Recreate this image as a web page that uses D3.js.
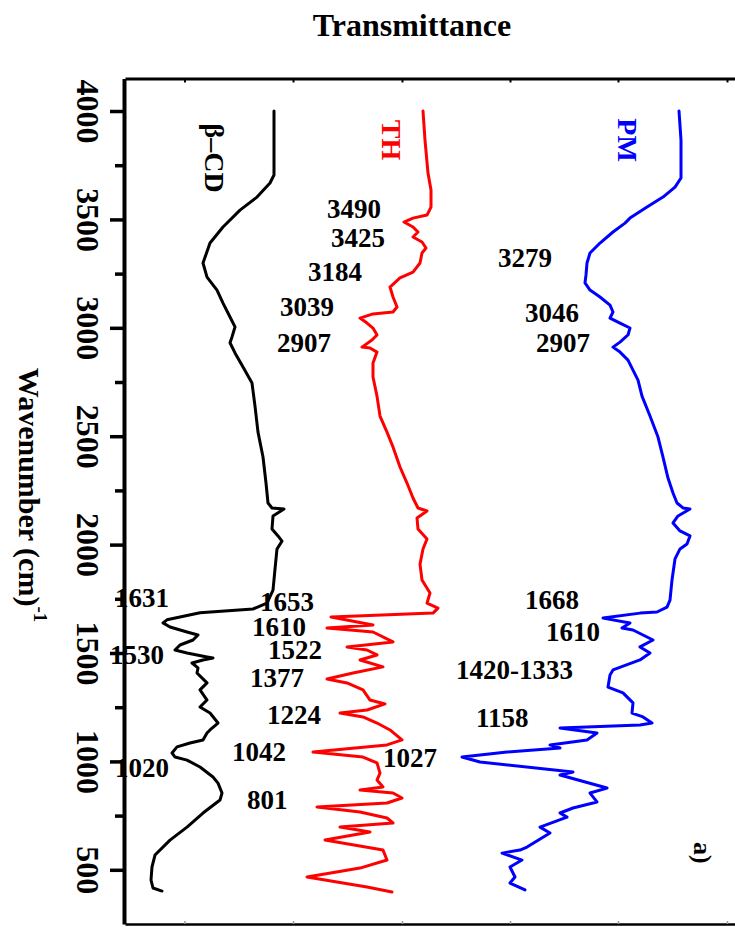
<!DOCTYPE html>
<html>
<head>
<meta charset="utf-8">
<script src="https://cdn.jsdelivr.net/npm/d3@7/dist/d3.min.js"></script>
<style>
  html, body { margin: 0; padding: 0; background: #fff; }
  svg { display: block; }
  text { font-family: "Liberation Serif", "Times New Roman", serif; font-weight: bold; }
</style>
</head>
<body>
<svg id="chart" width="735" height="927"></svg>
<script>
// ---------------- DATA ----------------
// [wavenumber (cm-1), transmittance (arbitrary, offset per series)]
const betaCD = [
[4000,29.8],[3705,29.8],[3668,29.0],[3603,26.4],[3543,23.0],[3465,19.6],[3391,17.0],[3299,15.6],[3234,16.4],[3174,18.4],[3114,19.6],[3050,21.0],[3004,22.0],[2958,21.4],[2931,21.0],[2884,22.0],[2819,23.6],[2745,25.4],[2639,26.0],[2519,26.6],[2404,27.6],[2284,28.2],[2192,28.6],[2169,29.4],[2164,31.8],[2132,29.6],[2072,29.4],[2040,30.6],[2016,31.4],[1980,30.4],[1887,30.0],[1790,29.6],[1730,28.4],[1703,25.6],[1686,15.0],[1653,8.4],[1639,7.6],[1620,9.0],[1597,12.4],[1583,14.6],[1560,13.6],[1537,11.0],[1514,10.0],[1500,12.4],[1482,16.4],[1477,17.6],[1468,15.6],[1454,13.4],[1431,14.6],[1408,14.4],[1362,16.4],[1330,15.0],[1283,16.4],[1251,15.0],[1223,17.0],[1177,18.6],[1145,17.0],[1131,16.4],[1099,15.6],[1085,13.0],[1067,10.4],[1039,9.4],[1020,10.0],[1006,12.4],[974,15.0],[928,17.6],[900,18.6],[854,19.4],[822,19.0],[762,15.6],[697,12.4],[637,9.0],[568,6.0],[513,5.4],[453,5.2],[416,5.6],[402,7.4]
];
const TH = [
[4000,59.6],[3866,60.0],[3714,60.6],[3636,61.2],[3557,61.2],[3520,60.4],[3506,57.6],[3488,55.8],[3465,57.6],[3442,58.6],[3419,57.6],[3396,59.4],[3368,60.2],[3345,59.4],[3299,59.0],[3257,57.6],[3230,55.0],[3188,53.0],[3142,53.6],[3096,54.4],[3073,53.6],[3064,49.6],[3045,47.0],[3022,48.4],[2999,49.6],[2967,50.4],[2944,49.4],[2911,47.4],[2907,49.0],[2888,50.4],[2838,49.6],[2773,49.6],[2685,50.4],[2593,51.0],[2519,52.4],[2450,53.6],[2358,55.0],[2284,56.4],[2215,57.6],[2169,58.6],[2155,60.4],[2123,58.4],[2072,58.6],[2026,60.4],[1980,59.6],[1910,59.0],[1837,59.4],[1777,61.0],[1730,60.4],[1707,62.6],[1684,61.6],[1666,41.2],[1629,49.6],[1615,40.4],[1597,49.6],[1551,53.6],[1528,44.4],[1514,48.4],[1491,50.4],[1468,47.0],[1436,51.6],[1408,45.6],[1380,40.4],[1362,44.4],[1330,47.6],[1283,49.0],[1265,52.0],[1237,48.4],[1223,43.0],[1205,47.6],[1177,50.4],[1145,53.0],[1099,55.4],[1076,52.4],[1043,37.6],[1020,47.6],[993,50.4],[946,51.0],[914,50.4],[882,51.6],[868,47.0],[854,53.6],[831,55.4],[808,52.4],[790,38.4],[767,47.0],[739,52.4],[716,53.6],[697,43.0],[674,49.0],[637,40.0],[591,51.6],[545,52.4],[508,47.0],[467,36.4],[421,48.4],[398,53.4]
];
const PM = [
[4000,110.8],[3866,111.2],[3691,111.2],[3649,110.0],[3603,107.6],[3557,104.4],[3506,101.0],[3483,100.0],[3442,97.6],[3391,95.0],[3345,93.0],[3299,92.4],[3244,92.2],[3207,92.0],[3174,93.0],[3142,95.0],[3105,97.0],[3073,97.6],[3045,97.0],[3022,99.0],[2999,101.0],[2967,100.6],[2934,99.0],[2911,97.6],[2888,99.0],[2851,100.6],[2805,101.6],[2759,102.6],[2685,103.4],[2593,105.0],[2496,106.6],[2404,107.6],[2307,108.6],[2238,109.6],[2192,110.4],[2169,111.6],[2164,113.0],[2132,110.6],[2100,109.6],[2063,111.0],[2040,113.0],[2003,112.4],[1980,111.0],[1934,110.0],[1837,109.4],[1744,109.0],[1712,108.4],[1689,106.4],[1684,103.0],[1661,95.6],[1638,101.0],[1615,99.4],[1606,101.6],[1560,105.6],[1528,103.0],[1500,105.0],[1468,103.0],[1422,97.6],[1399,97.0],[1343,96.6],[1316,99.6],[1270,101.6],[1223,101.4],[1205,103.6],[1177,105.4],[1168,103.0],[1154,87.0],[1131,94.4],[1099,92.4],[1076,85.0],[1062,87.0],[1043,76.4],[1020,67.4],[997,71.0],[951,89.6],[937,87.0],[877,96.4],[854,93.0],[813,94.4],[785,89.6],[762,87.0],[743,88.4],[697,83.0],[670,85.0],[605,80.4],[591,79.0],[577,75.4],[545,79.4],[513,77.0],[467,78.0],[439,77.0],[407,80.0]
];

const seriesNames = ["β–CD", "TH", "PM"];
const seriesColors = ["#000000", "#ff0000", "#0000ff"];
const seriesData = [betaCD, TH, PM];
// series name anchors [wavenumber, transmittance]
const seriesNameAnchors = [[3783, 17.8], [3866, 53.2], [3866, 100.4]];

const majorTicks = [4000, 3500, 3000, 2500, 2000, 1500, 1000, 500];
const minorTicks = [3750, 3250, 2750, 2250, 1750, 1250, 750];
const frameTicks = [11.9, 33.6, 55.4, 77.0, 98.6, 120.4];

// peak labels: text, anchor wavenumber, anchor transmittance (left edge)
const peakLabels = [
  ["3490", 3548, 40.4], ["3425", 3414, 41.2], ["3184", 3257, 36.6],
  ["3039", 3096, 31.0], ["2907", 2930, 30.4],
  ["3279", 3322, 74.6], ["3046", 3068, 80.0], ["2907", 2930, 82.2],
  ["1631", 1754, -2.0], ["1530", 1491, -3.0], ["1020", 970, -2.0],
  ["1653", 1736, 27.0], ["1610", 1620, 25.4], ["1522", 1514, 28.6],
  ["1377", 1385, 25.0], ["1224", 1214, 28.4], ["1042", 1044, 21.4],
  ["1027", 1016, 51.6], ["801", 822, 24.4],
  ["1668", 1745, 80.0], ["1610", 1597, 84.2], ["1420-1333", 1422, 66.2],
  ["1158", 1200, 70.2]
];
const panelLabel = ["a)", 578, 115.4];

// ---------------- CHART ----------------
const svg = d3.select("#chart");
const y = d3.scaleLinear().domain([4150, 250]).range([78.5, 924]);
const x = d3.scaleLinear().domain([0, 122]).range([125, 735]);

// title
svg.append("text").attr("x", 412).attr("y", 25)
  .attr("text-anchor", "middle").attr("dominant-baseline", "central")
  .attr("font-size", 32).text("Transmittance");

// axis title (rotated clockwise)
const at = svg.append("text")
  .attr("transform", "translate(30,495) rotate(90)")
  .attr("text-anchor", "middle").attr("dominant-baseline", "central")
  .attr("font-size", 30);
at.append("tspan").text("Wavenumber (cm)");
at.append("tspan").attr("font-size", 19).attr("dy", -11).text("-1");

// peak labels
svg.append("g").selectAll("text").data(peakLabels).join("text")
  .attr("x", d => x(d[2])).attr("y", d => y(d[1]))
  .attr("dominant-baseline", "central")
  .attr("font-size", 27).attr("fill", "#000")
  .text(d => d[0]);

// curves
const line = d3.line().x(d => x(d[1])).y(d => y(d[0]));
svg.append("g").selectAll("path").data(seriesData).join("path")
  .attr("d", line)
  .attr("fill", "none")
  .attr("stroke", (d, i) => seriesColors[i])
  .attr("stroke-width", 3)
  .attr("stroke-linejoin", "round")
  .attr("stroke-linecap", "round");

// series names (rotated)
svg.append("g").selectAll("text").data(seriesNames).join("text")
  .attr("transform", (d, i) => `translate(${x(seriesNameAnchors[i][1])},${y(seriesNameAnchors[i][0])}) rotate(90)`)
  .attr("text-anchor", "middle").attr("dominant-baseline", "central")
  .attr("font-size", 28)
  .attr("fill", (d, i) => seriesColors[i])
  .text(d => d);

// panel label
svg.append("text")
  .attr("transform", `translate(${x(panelLabel[2])},${y(panelLabel[1])}) rotate(90)`)
  .attr("text-anchor", "middle").attr("dominant-baseline", "central")
  .attr("font-size", 26).text(panelLabel[0]);

// frame top / bottom
const topAxis = svg.append("g").attr("transform", "translate(0,78.5)")
  .call(d3.axisTop(x).tickValues(frameTicks).tickSize(-4).tickSizeOuter(0).tickFormat(""));
topAxis.select(".domain").attr("stroke-width", 3);
topAxis.selectAll(".tick line").attr("stroke-width", 2);

const botAxis = svg.append("g").attr("transform", "translate(0,924)")
  .call(d3.axisBottom(x).tickValues(frameTicks).tickSize(-3).tickSizeOuter(0).tickFormat(""));
botAxis.select(".domain").attr("stroke-width", 2.5);
botAxis.selectAll(".tick line").attr("stroke", "#999").attr("stroke-width", 1.5);

// left axis: minor ticks
const minorAxis = svg.append("g").attr("transform", "translate(124,0)")
  .call(d3.axisLeft(y).tickValues(minorTicks).tickSize(9).tickSizeOuter(0).tickFormat(""));
minorAxis.select(".domain").remove();
minorAxis.selectAll(".tick line").attr("stroke-width", 3.5);

// left axis: major ticks + labels
const majorAxis = svg.append("g").attr("transform", "translate(124,0)")
  .call(d3.axisLeft(y).tickValues(majorTicks).tickSize(14).tickSizeOuter(0).tickFormat(d3.format("d")));
majorAxis.select(".domain").attr("stroke-width", 4);
majorAxis.selectAll(".tick line").attr("stroke-width", 3.5);
majorAxis.selectAll(".tick text")
  .attr("x", null).attr("dy", null)
  .attr("text-anchor", "middle").attr("dominant-baseline", "central")
  .attr("transform", "translate(-36,0) rotate(90)")
  .attr("font-size", 32)
  .attr("font-family", "'Liberation Serif', 'Times New Roman', serif")
  .attr("font-weight", "bold")
  .attr("fill", "#000");
</script>
</body>
</html>
